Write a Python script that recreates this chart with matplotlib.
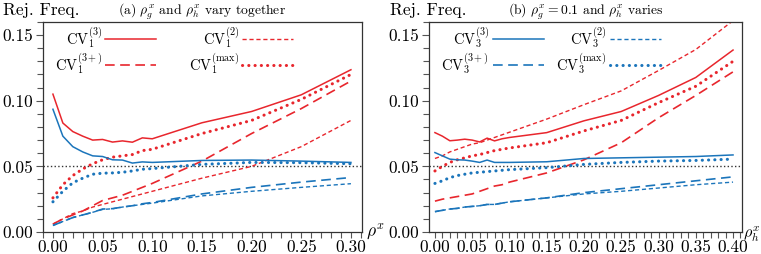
import numpy as np
import matplotlib
matplotlib.use("Agg")
import matplotlib.pyplot as plt
from matplotlib.ticker import MultipleLocator, FormatStrFormatter

plt.rcParams['font.family'] = ['cmr10', 'DejaVu Serif']
plt.rcParams['mathtext.fontset'] = 'cm'
plt.rcParams['axes.formatter.use_mathtext'] = True
plt.rcParams['font.size'] = 12.5

# panel (a): rho_g = rho_h = rho
x_a = [0.00, 0.01, 0.02, 0.03, 0.04, 0.05, 0.06, 0.07, 0.08, 0.09, 0.10, 0.15, 0.20, 0.25, 0.30]
a_cv1_3 = [0.105, 0.083, 0.0765, 0.073, 0.070, 0.0705, 0.0685, 0.0694, 0.0684, 0.0717, 0.071, 0.0832, 0.0918, 0.1045, 0.1236]
a_cv1_3p = [0.006, 0.010, 0.013, 0.016, 0.020, 0.024, 0.026, 0.028, 0.031, 0.034, 0.037, 0.054, 0.075, 0.094, 0.115]
a_cv1_2 = [0.006, 0.010, 0.014, 0.016, 0.019, 0.021, 0.023, 0.025, 0.027, 0.029, 0.031, 0.041, 0.050, 0.065, 0.085]
a_cv1_max = [0.026, 0.036, 0.043, 0.048, 0.052, 0.055, 0.057, 0.058, 0.059, 0.062, 0.063, 0.075, 0.085, 0.101, 0.120]
a_cv3_3 = [0.0935, 0.073, 0.065, 0.061, 0.058, 0.0575, 0.055, 0.0548, 0.0525, 0.0534, 0.053, 0.0545, 0.0548, 0.054, 0.053]
a_cv3_3p = [0.005, 0.008, 0.011, 0.013, 0.015, 0.0175, 0.0178, 0.019, 0.020, 0.0215, 0.0225, 0.029, 0.034, 0.038, 0.0415]
a_cv3_2 = [0.005, 0.008, 0.011, 0.013, 0.015, 0.0172, 0.0177, 0.019, 0.020, 0.021, 0.022, 0.0275, 0.031, 0.034, 0.0368]
a_cv3_max = [0.023, 0.031, 0.0375, 0.041, 0.044, 0.0448, 0.045, 0.0455, 0.0465, 0.0478, 0.0483, 0.0515, 0.053, 0.0528, 0.052]

# panel (b): rho_g = 0.1, rho_h varies
x_b = [0.00, 0.01, 0.02, 0.03, 0.04, 0.05, 0.06, 0.07, 0.08, 0.09, 0.10, 0.15, 0.20, 0.25, 0.30, 0.35, 0.40]
b_cv1_3 = [0.0757, 0.073, 0.0695, 0.070, 0.0707, 0.070, 0.0686, 0.0715, 0.0694, 0.071, 0.072, 0.0757, 0.0847, 0.0918, 0.104, 0.1177, 0.1386]
b_cv1_3p = [0.0235, 0.025, 0.026, 0.027, 0.028, 0.029, 0.031, 0.033, 0.035, 0.036, 0.038, 0.045, 0.055, 0.068, 0.087, 0.104, 0.122]
b_cv1_2 = [0.056, 0.058, 0.061, 0.063, 0.065, 0.067, 0.068, 0.070, 0.072, 0.074, 0.076, 0.086, 0.097, 0.1075, 0.123, 0.139, 0.161]
b_cv1_max = [0.0465, 0.050, 0.053, 0.055, 0.0565, 0.058, 0.059, 0.0605, 0.062, 0.063, 0.064, 0.068, 0.077, 0.085, 0.0985, 0.111, 0.130]
b_cv3_3 = [0.0605, 0.058, 0.0555, 0.055, 0.0548, 0.054, 0.053, 0.0548, 0.053, 0.053, 0.053, 0.0535, 0.056, 0.0565, 0.057, 0.0575, 0.0587]
b_cv3_3p = [0.0155, 0.0165, 0.0175, 0.018, 0.019, 0.0195, 0.020, 0.021, 0.021, 0.022, 0.023, 0.026, 0.030, 0.033, 0.036, 0.039, 0.042]
b_cv3_2 = [0.0155, 0.0165, 0.0175, 0.018, 0.019, 0.0195, 0.020, 0.021, 0.021, 0.022, 0.023, 0.026, 0.029, 0.031, 0.0335, 0.036, 0.038]
b_cv3_max = [0.037, 0.039, 0.0414, 0.043, 0.044, 0.045, 0.0455, 0.046, 0.0465, 0.047, 0.0475, 0.049, 0.0515, 0.053, 0.054, 0.0545, 0.0555]

red = '#e8262d'
blue = '#1b75bb'
styles = {
    '3': dict(ls='-', lw=1.1),
    '3p': dict(ls=(0, (5.8, 3.3)), lw=1.2),
    '2': dict(ls=(0, (3.0, 2.0)), lw=1.0),
    'max': dict(ls=(0, (0.05, 2.0)), lw=2.2, dash_capstyle='round'),
}

fig = plt.figure(figsize=(7.61, 2.54), dpi=100)
ax1 = fig.add_axes([0.0565, 0.0866, 0.419, 0.827])
ax2 = fig.add_axes([0.5637, 0.0866, 0.4113, 0.827])


def draw(ax, x, red_series, blue_series, legend_color, sub, anchor_x, colsp, textpad):
    lines = {}
    for col, series in ((red, red_series), (blue, blue_series)):
        for key, y in zip(['3', '3p', '2', 'max'], series):
            ln, = ax.plot(x, y, color=col, **styles[key])
            lines[(col, key)] = ln
    ax.axhline(0.05, color='#333333', ls=':', lw=1.0, zorder=0)
    ax.set_ylim(0, 0.16)
    ax.yaxis.set_major_locator(MultipleLocator(0.05))
    ax.yaxis.set_minor_locator(MultipleLocator(0.01))
    ax.xaxis.set_major_locator(MultipleLocator(0.05))
    ax.xaxis.set_minor_locator(MultipleLocator(0.01))
    ax.yaxis.set_major_formatter(FormatStrFormatter('%.2f'))
    ax.xaxis.set_major_formatter(FormatStrFormatter('%.2f'))
    ax.tick_params(which='both', direction='out', color='#555555', width=0.8)
    ax.tick_params(axis='y', which='major', length=5, pad=2)
    ax.tick_params(axis='y', which='minor', length=4)
    ax.tick_params(axis='x', which='both', length=4, pad=1.5)
    for s in ax.spines.values():
        s.set_color('#333333')
        s.set_linewidth(0.9)
    labels = [r'CV$_%s^{(3)}$' % sub, r'CV$_%s^{(3+)}$' % sub,
              r'CV$_%s^{(2)}$' % sub, r'CV$_%s^{(\max)}$' % sub]
    handles = [lines[(legend_color, k)] for k in ['3', '3p', '2', 'max']]
    ax.legend(handles, labels, ncol=2, loc='upper left', frameon=False,
              fontsize=10.5, markerfirst=False, handlelength=3.5,
              handletextpad=textpad, columnspacing=colsp, labelspacing=0.05,
              borderaxespad=0.0, borderpad=0.25,
              bbox_to_anchor=(anchor_x, 1.0))


draw(ax1, x_a, [a_cv1_3, a_cv1_3p, a_cv1_2, a_cv1_max],
     [a_cv3_3, a_cv3_3p, a_cv3_2, a_cv3_max], red, '1', 0.026, 2.3, 0.15)
ax1.set_xlim(-0.01, 0.311)
ax1.set_title(r'(a) $\rho_g^x$ and $\rho_h^x$ vary together', fontsize=9.8, pad=4)
ax1.text(-0.125, 1.02, 'Rej. Freq.', transform=ax1.transAxes, va='bottom', ha='left')
ax1.text(1.012, 0.0, r'$\rho^x$', transform=ax1.transAxes, va='center', ha='left')

draw(ax2, x_b, [b_cv1_3, b_cv1_3p, b_cv1_2, b_cv1_max],
     [b_cv3_3, b_cv3_3p, b_cv3_2, b_cv3_max], blue, '3', 0.027, 0.8, 0.3)
ax2.set_xlim(-0.008, 0.412)
ax2.set_title(r'(b) $\rho_g^x = 0.1$ and $\rho_h^x$ varies', fontsize=9.8, pad=4)
ax2.text(-0.125, 1.02, 'Rej. Freq.', transform=ax2.transAxes, va='bottom', ha='left')
ax2.text(1.004, -0.01, r'$\rho_h^x$', transform=ax2.transAxes, va='center', ha='left',
         fontsize=11.5)

fig.savefig('out.png', dpi=100)
